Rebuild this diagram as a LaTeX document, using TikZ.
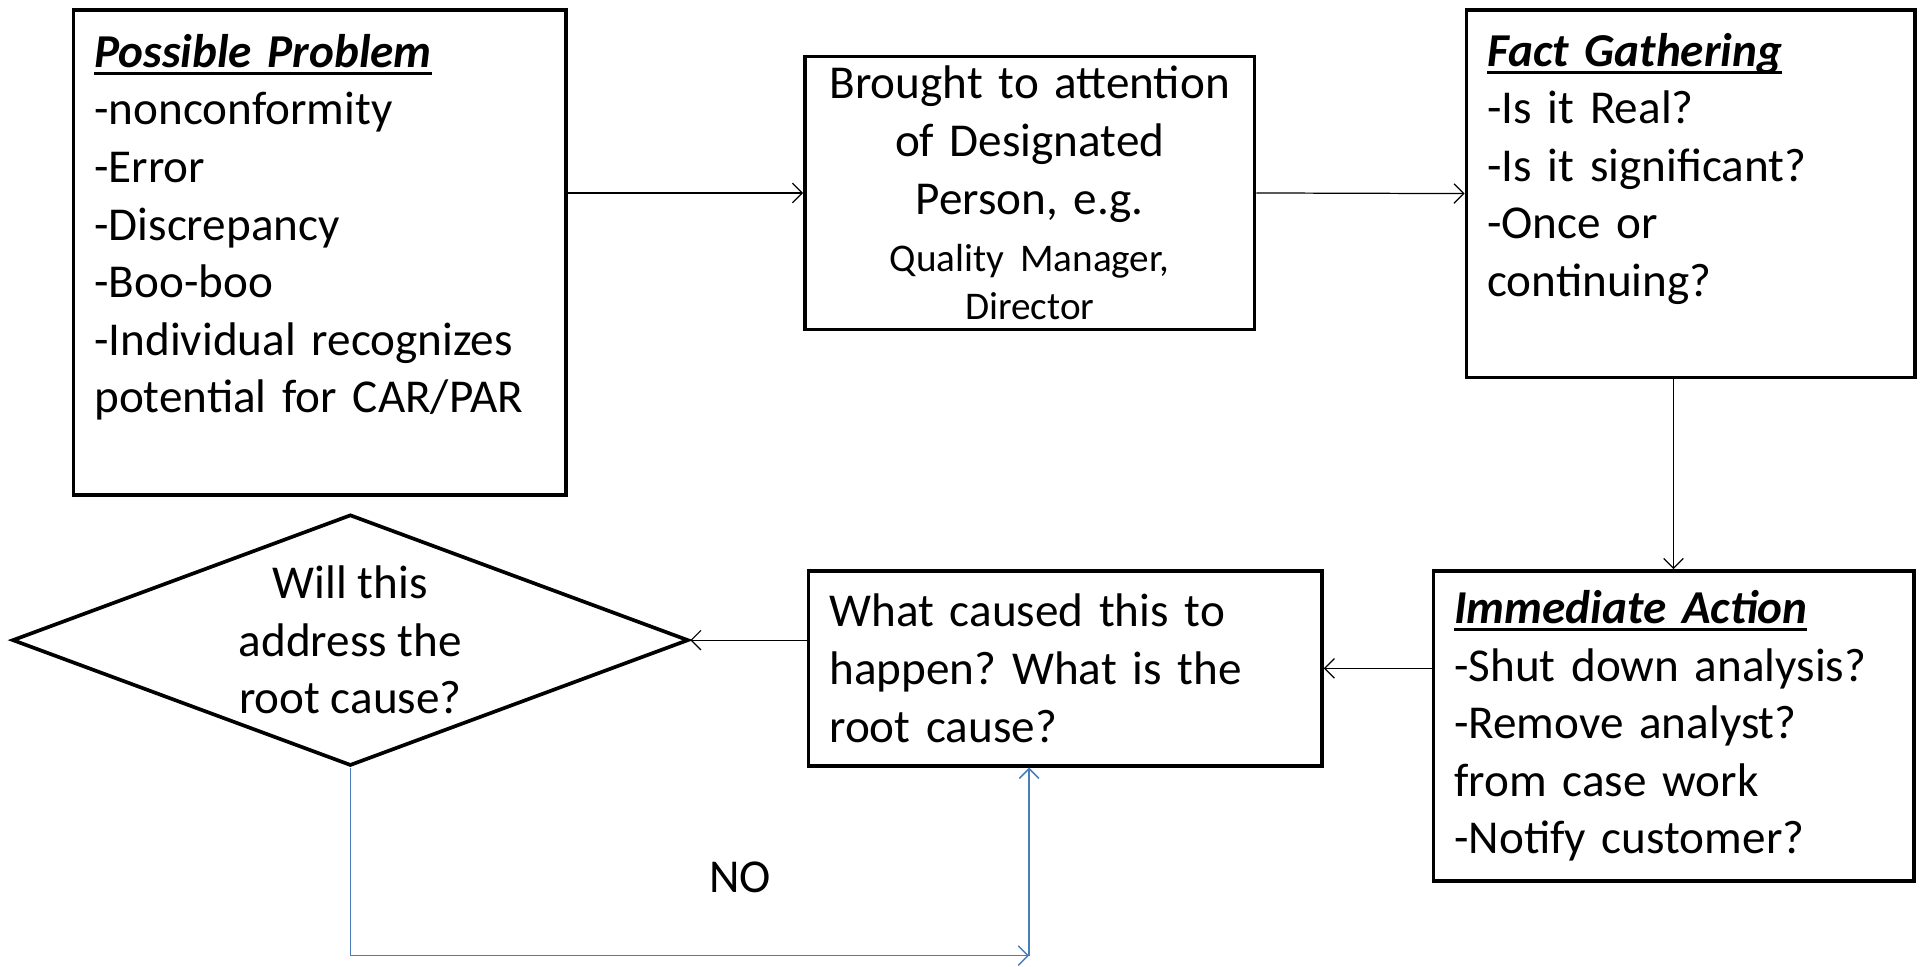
\documentclass[tikz,border=0pt]{standalone}
\usepackage{fontspec}
\setmainfont{Carlito}
\usetikzlibrary{arrows.meta,shapes.geometric}
\newsavebox{\headbox}
\newcommand{\headline}[1]{\sbox{\headbox}{\textbf{\textit{#1}}}%
  \rlap{\rule[-3pt]{\wd\headbox}{1.1pt}}\usebox{\headbox}}
\begin{document}
\frenchspacing
\begin{tikzpicture}[x=0.5pt,y=-0.5pt,
    box/.style={draw,line width=1.5pt,inner xsep=8.5pt,inner ysep=0pt,align=left,
      font=\fontsize{19.25}{23.5}\selectfont},
    link/.style={-{Straight Barb[length=4pt,width=8pt]},line width=0.5pt},
    nolink/.style={link,draw=noblue,line width=0.6pt}]
  \definecolor{noblue}{RGB}{74,126,187}
  \useasboundingbox (0,0) rectangle (1568,789);
  \node[box,text width=184pt,minimum height=198pt] (Problem) at (261,206)
    {\headline{Possible Problem}\\-nonconformity\\-Error\\-Discrepancy\\-Boo-boo\\
     -Individual recognizes\\potential for CAR/PAR\\~};
  \node[box,align=center,text width=166.5pt,minimum height=111.5pt] (Attention) at (840.5,157.5)
    {Brought to attention\\of Designated\\Person, e.g.\\
     {\fontsize{16}{19.5}\selectfont Quality Manager,}\\[-4pt]
     {\fontsize{16}{19.5}\selectfont Director}};
  \node[box,text width=166pt,minimum height=150pt] (Facts) at (1380,158)
    {\headline{Fact Gathering}\\-Is it Real?\\-Is it significant?\\-Once or\\continuing?\\~};
  \node[box,text width=179pt,minimum height=126.5pt] (Action) at (1366,592.5)
    {\headline{Immediate Action}\\-Shut down analysis?\\-Remove analyst?\\from case work\\-Notify customer?};
  \node[box,text width=192.5pt,minimum height=79.5pt] (Cause) at (869.5,545.5)
    {What caused this to\\happen? What is the\\root cause?};
  \node[box,shape=diamond,align=center,inner sep=0pt,shape aspect=2.69,
    minimum width=276pt,minimum height=102.5pt] (Check) at (286,522.5)
    {Will this\\address the\\root cause?};
  \node[font=\fontsize{19.25}{23.5}\selectfont] (No) at (604,716) {NO};
  \coordinate (Corner) at (840,780);
  \draw[link] (Problem.east |- Attention.west) -- (Attention.west);
  \draw[link] (Attention.east) -- (Facts.west);
  \draw[link] (Facts.south -| Action.north) -- (Action.north);
  \draw[link] (Action.west |- Cause.east) -- (Cause.east);
  \draw[link] (Cause.west |- Check.east) -- (Check.east);
  \draw[nolink] (Check.south) |- (Corner);
  \draw[nolink] (Corner) -- (Corner |- Cause.south);
\end{tikzpicture}
\end{document}
